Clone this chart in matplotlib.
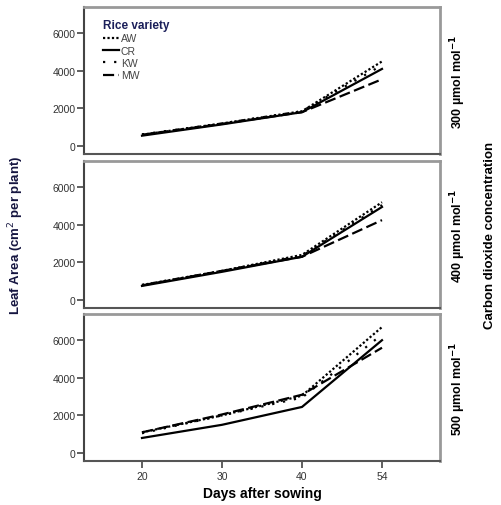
import matplotlib.pyplot as plt

plt.rcParams['font.family'] = ['Liberation Sans', 'DejaVu Sans']

days = ["20", "30", "40", "54"]
varieties = ["AW", "CR", "KW", "MW"]
co2_labels = ["300 µmol mol$^{\\mathbf{-1}}$", "400 µmol mol$^{\\mathbf{-1}}$", "500 µmol mol$^{\\mathbf{-1}}$"]

# leaf area (cm2 per plant), one list per variety for each CO2 level
area_300 = {
    "AW": [600, 1200, 1850, 4500],
    "CR": [550, 1150, 1800, 4100],
    "KW": [620, 1200, 1850, 4300],
    "MW": [600, 1180, 1800, 3550],
}
area_400 = {
    "AW": [800, 1550, 2400, 5200],
    "CR": [750, 1500, 2300, 4950],
    "KW": [800, 1550, 2350, 5050],
    "MW": [780, 1550, 2300, 4250],
}
area_500 = {
    "AW": [1100, 2000, 3050, 6700],
    "CR": [800, 1500, 2450, 6000],
    "KW": [1050, 2000, 2950, 6300],
    "MW": [1100, 2050, 3100, 5600],
}
panels = [area_300, area_400, area_500]

styles = {
    "AW": (0, (1, 1)),
    "CR": "-",
    "KW": (0, (1, 4)),
    "MW": (0, (5, 2)),
}

fig = plt.figure(figsize=(5.02, 5.06), dpi=100)
left, width, height = 84 / 502, 356 / 502, 147 / 506
bottoms = [1 - 155 / 506, 1 - 309 / 506, 1 - 462 / 506]

xs = list(range(len(days)))
axes = []
for i, data in enumerate(panels):
    ax = fig.add_axes([left, bottoms[i], width, height])
    axes.append(ax)
    for v in varieties:
        ax.plot(xs, data[v], color="black", lw=1.6, linestyle=styles[v], label=v)
    ax.set_xlim(-0.725, 3.725)
    ax.set_ylim(-425, 7394)
    ax.set_yticks([0, 2000, 4000, 6000])
    ax.tick_params(axis="y", labelsize=7.5, labelcolor="#333333", direction="out",
                   length=5, width=1.2, color="#444444", pad=1)
    for s in ["top", "right"]:
        ax.spines[s].set_color("#999999")
        ax.spines[s].set_linewidth(2)
    ax.spines["left"].set_color("#444444")
    ax.spines["left"].set_linewidth(1.5)
    ax.spines["bottom"].set_color("#555555")
    ax.spines["bottom"].set_linewidth(1.5)
    if i < 2:
        ax.set_xticks([])
    else:
        ax.set_xticks(xs)
        ax.set_xticklabels(days)
        ax.tick_params(axis="x", labelsize=7.5, labelcolor="#333333", direction="out",
                       length=5, width=1.2, color="#444444", pad=2)
        ax.set_xlabel("Days after sowing", fontsize=10, fontweight="bold", labelpad=4)
    ax.text(1.05, 0.5, co2_labels[i], transform=ax.transAxes, rotation=90,
            ha="center", va="center", fontsize=9, fontweight="bold")

leg = axes[0].legend(loc="upper left", bbox_to_anchor=(0.035, 0.96), frameon=False,
                     title="Rice variety", fontsize=7.5, handlelength=1.6,
                     handletextpad=0.15, labelspacing=0.22, borderaxespad=0.2)
leg.get_title().set_fontweight("bold")
leg.get_title().set_fontsize(8.5)
leg.get_title().set_color("#1b1f5a")
leg._legend_box.align = "left"
for t in leg.get_texts():
    t.set_color("#444444")

fig.text(0.032, 0.535, "Leaf Area (cm$^{2}$ per plant)", rotation=90, ha="center",
         va="center", fontsize=9.5, fontweight="bold", color="#151540")
fig.text(0.977, 0.535, "Carbon dioxide concentration", rotation=90, ha="center",
         va="center", fontsize=9.5, fontweight="bold")

fig.savefig("out.png", dpi=100)
